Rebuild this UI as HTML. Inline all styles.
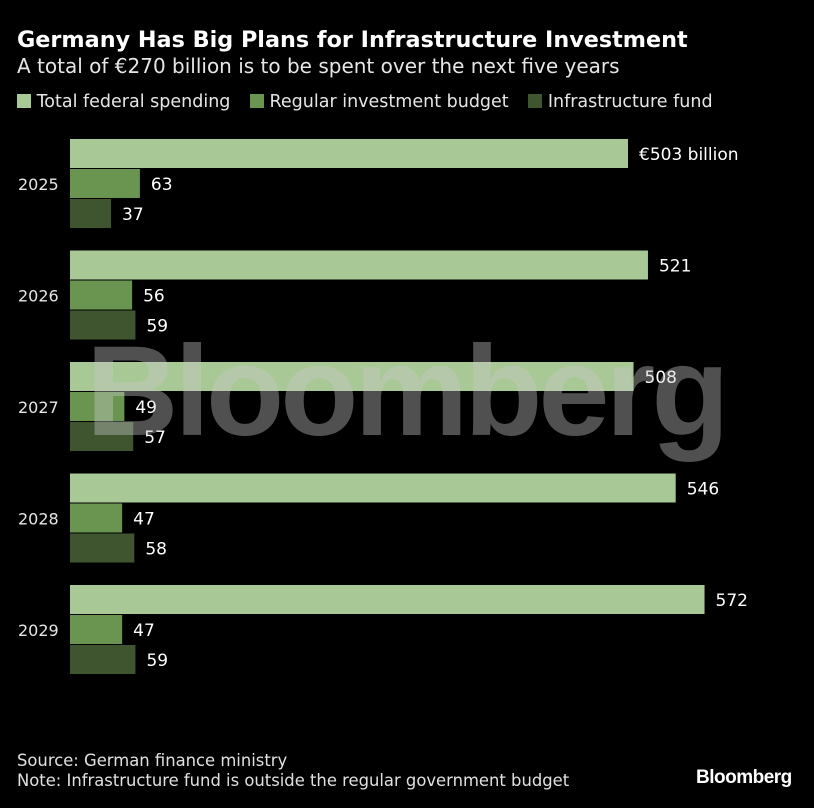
<!DOCTYPE html>
<html><head><meta charset="utf-8"><style>
body{margin:0;background:#000;width:814px;height:808px;overflow:hidden;font-family:"DejaVu Sans","Liberation Sans",sans-serif;color:#fff;position:relative}
.t{position:absolute;white-space:nowrap}
</style></head><body>
<div class="t" style="left:17px;top:27px;font-size:22.3px;font-weight:bold">Germany Has Big Plans for Infrastructure Investment</div>
<div class="t" style="left:17px;top:54px;font-size:20px;color:#e6e6e6">A total of €270 billion is to be spent over the next five years</div>
<div class="t" style="left:17px;top:92px;font-size:17.5px;color:#e6e6e6">
<span><span style="display:inline-block;width:14px;height:14px;background:#a8c896;vertical-align:-1px"></span> Total federal spending</span>
<span style="margin-left:14px"><span style="display:inline-block;width:14px;height:14px;background:#6a9550;vertical-align:-1px"></span> Regular investment budget</span>
<span style="margin-left:14px"><span style="display:inline-block;width:14px;height:14px;background:#3e5530;vertical-align:-1px"></span> Infrastructure fund</span>
</div>
<svg id="c" width="814" height="808" style="position:absolute;left:0;top:0"></svg>
<div class="t" style="font-family:'Liberation Sans',sans-serif;left:86px;top:318px;font-size:128px;font-weight:bold;color:rgba(200,200,200,0.4);letter-spacing:-4px">Bloomberg</div>
<div class="t" style="left:17px;top:751px;font-size:16.4px;color:#e0e0e0;line-height:20px">Source: German finance ministry<br>Note: Infrastructure fund is outside the regular government budget</div>
<div class="t" style="font-family:'Liberation Sans',sans-serif;left:696px;top:767px;font-size:19px;font-weight:bold;letter-spacing:-0.5px">Bloomberg</div>
<script>
const years=["2025","2026","2027","2028","2029"];
const total=[503,521,508,546,572];
const regular=[63,56,49,47,47];
const infra=[37,59,57,58,59];
const svg=document.getElementById('c');
const NS='http://www.w3.org/2000/svg';
const x0=70,k=558/503;
const xs=v=>v*k;
const gy=i=>139+i*111.5;
const series=[[total,'#a8c896','total'],[regular,'#6a9550','regular'],[infra,'#3e5530','infra']];
years.forEach((y,i)=>{
 const t=document.createElementNS(NS,'text');
 t.setAttribute('x',18);t.setAttribute('y',gy(i)+51);t.setAttribute('font-size',16);t.setAttribute('fill','#e6e6e6');
 t.textContent=y;
 
 
 svg.appendChild(t);
 series.forEach(([arr,col,nm],j)=>{
  const r=document.createElementNS(NS,'rect');
  const top=gy(i)+j*30;
  r.setAttribute('x',x0);r.setAttribute('y',top);r.setAttribute('width',xs(arr[i]));r.setAttribute('height',29);r.setAttribute('fill',col);
  
  
  svg.appendChild(r);
  const l=document.createElementNS(NS,'text');
  l.setAttribute('x',x0+xs(arr[i])+11);l.setAttribute('y',top+21);l.setAttribute('font-size',17);l.setAttribute('fill','#fff');
  l.textContent=(i==0&&j==0)?'€'+arr[i]+' billion':arr[i];
  
  
  svg.appendChild(l);
 });
});
</script>
</body></html>
